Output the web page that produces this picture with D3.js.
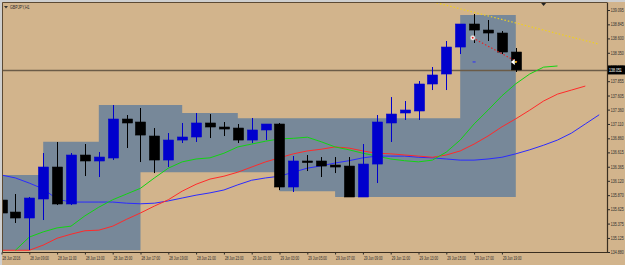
<!DOCTYPE html>
<html>
<head>
<meta charset="utf-8">
<script src="https://cdn.jsdelivr.net/npm/d3@7"></script>
<style>
    body { margin: 0; background: #d2b48c; }
    svg { display: block; font-family: "Liberation Sans", Arial, sans-serif; }
</style>
</head>
<body>
<svg id="chart" width="625" height="265"></svg>
<script>
// GBPJPY H1, 28 Jun 07:00 .. 29 Jun 20:00
const opens = [135.785, 135.576, 135.472, 135.803, 136.360, 135.716, 136.569, 136.465, 136.517, 137.196, 137.144, 136.900, 136.482, 136.830, 136.883, 137.127, 137.057, 137.039, 136.830, 137.005, 137.109, 136.012, 136.465, 136.465, 136.395, 136.377, 135.838, 136.412, 137.127, 137.301, 137.336, 137.806, 137.980, 138.450, 138.851, 138.746, 138.694, 138.363]
const highs = [135.907, 135.890, 135.838, 136.604, 136.796, 136.604, 136.761, 136.621, 137.440, 137.266, 137.388, 137.039, 136.952, 137.127, 137.301, 137.283, 137.144, 137.109, 137.214, 137.109, 137.127, 136.552, 136.569, 136.534, 136.534, 136.534, 136.761, 137.266, 137.579, 137.510, 137.858, 138.102, 138.555, 138.851, 139.025, 138.921, 138.729, 138.433]
const lows = [135.385, 135.385, 134.914, 135.437, 135.698, 135.698, 136.203, 136.186, 136.482, 136.691, 136.447, 136.255, 136.360, 136.778, 136.796, 136.865, 136.900, 136.778, 136.778, 136.830, 135.959, 135.925, 136.290, 136.186, 136.255, 135.838, 135.838, 136.081, 136.796, 137.179, 137.179, 137.701, 137.701, 138.328, 138.520, 138.555, 138.328, 138.015]
const closes = [135.559, 135.472, 135.820, 136.360, 135.716, 136.569, 136.465, 136.534, 137.196, 137.127, 136.917, 136.482, 136.830, 136.883, 137.127, 137.057, 137.022, 136.830, 137.005, 137.109, 136.012, 136.465, 136.447, 136.377, 136.360, 135.838, 136.412, 137.144, 137.283, 137.353, 137.806, 137.963, 138.450, 138.851, 138.746, 138.694, 138.363, 138.051]

// range boxes (step, per bar)
const rangeHigh = [136.22, 136.22, 136.22, 136.80, 136.80, 136.80, 136.80, 137.44, 137.44, 137.44, 137.44, 137.44, 137.44, 137.30, 137.30, 137.30, 137.30, 137.21, 137.21, 137.21, 137.21, 137.21, 137.21, 137.21, 137.21, 137.21, 137.21, 137.21, 137.21, 137.21, 137.21, 137.21, 137.21, 139.01, 139.01, 139.01, 139.01, 139.01]
const rangeLow = [134.91, 134.91, 134.91, 134.91, 134.91, 134.91, 134.91, 134.91, 134.91, 134.91, 136.27, 136.27, 136.27, 136.27, 136.27, 136.27, 136.27, 136.27, 136.27, 136.27, 135.94, 135.94, 135.94, 135.94, 135.84, 135.84, 135.84, 135.84, 135.84, 135.84, 135.84, 135.84, 135.84, 135.84, 135.84, 135.84, 135.84, 135.84]

// shifted moving averages (index = bar, null = not drawn)
const maGreen = [null, 134.91, 135.14, 135.23, 135.30, 135.33, 135.51, 135.66, 135.79, 135.89, 135.99, 136.17, 136.34, 136.45, 136.50, 136.52, 136.60, 136.71, 136.76, 136.81, 136.85, 136.86, 136.88, 136.80, 136.71, 136.66, 136.60, 136.55, 136.50, 136.47, 136.45, 136.48, 136.62, 136.83, 137.11, 137.35, 137.60, 137.81, 137.98, 138.10, 138.12]
const maRed = [134.91, 134.91, 134.91, 135.00, 135.12, 135.19, 135.25, 135.26, 135.33, 135.45, 135.56, 135.68, 135.79, 135.94, 136.06, 136.15, 136.20, 136.27, 136.36, 136.45, 136.52, 136.59, 136.64, 136.67, 136.71, 136.69, 136.64, 136.60, 136.59, 136.57, 136.55, 136.53, 136.57, 136.64, 136.76, 136.90, 137.06, 137.20, 137.35, 137.51, 137.63, 137.70, 137.77]
const maBlue = [136.22, 136.17, 136.08, 135.98, 135.80, 135.75, 135.75, 135.75, 135.75, 135.73, 135.72, 135.73, 135.77, 135.82, 135.87, 135.91, 135.96, 136.05, 136.13, 136.17, 136.20, 136.27, 136.34, 136.38, 136.43, 136.47, 136.52, 136.55, 136.55, 136.55, 136.53, 136.52, 136.50, 136.48, 136.48, 136.50, 136.53, 136.59, 136.66, 136.74, 136.83, 136.95, 137.11, 137.27]

// trend lines: [bar, price]
const trendYellow = [[31.3, 139.22], [43.0, 138.50]]
const trendRed = [[33.9, 138.61], [37.1, 138.19]]

const bidPrice = 138.051
const yTicks = [134.880, 135.125, 135.375, 135.625, 135.870, 136.120, 136.365, 136.615, 136.860, 137.110, 137.360, 137.605, 137.855, 138.100, 138.350, 138.600, 138.845, 139.095]
const xTickLabels = ["28 Jun 2016", "28 Jun 09:00", "28 Jun 11:00", "28 Jun 13:00", "28 Jun 15:00", "28 Jun 17:00", "28 Jun 19:00", "28 Jun 21:00", "28 Jun 23:00", "29 Jun 01:00", "29 Jun 03:00", "29 Jun 05:00", "29 Jun 07:00", "29 Jun 09:00", "29 Jun 11:00", "29 Jun 13:00", "29 Jun 15:00", "29 Jun 17:00", "29 Jun 19:00"]

const svg = d3.select("#chart")
const plotLeft = 2.5, plotRight = 607, plotTop = 3, plotBottom = 252.5

const x = d3.scaleLinear().domain([0, 37]).range([1.5, 515.8])
const y = d3.scaleLinear().domain([134.88, 139.095]).range([252, 10])

svg.append("rect").attr("width", 625).attr("height", 265).attr("fill", "#d2b48c")
svg.append("rect").attr("width", 625).attr("height", 2).attr("fill", "#cfcfcf")
svg.append("rect").attr("width", 2).attr("height", 265).attr("fill", "#cfcfcf")

svg.append("clipPath").attr("id", "plot")
    .append("rect").attr("x", plotLeft).attr("y", plotTop).attr("width", plotRight - plotLeft).attr("height", plotBottom - plotTop)

const g = svg.append("g").attr("clip-path", "url(#plot)")

// gray range area
const idx = d3.range(rangeHigh.length)
g.append("path")
    .datum(idx)
    .attr("fill", "#778899")
    .attr("d", d3.area()
        .curve(d3.curveStepAfter)
        .x(i => x(i))
        .y0(i => y(rangeLow[i]))
        .y1(i => y(rangeHigh[i])))

// bid line
g.append("line")
    .attr("x1", plotLeft).attr("x2", plotRight)
    .attr("y1", Math.round(y(bidPrice)) + 0.5).attr("y2", Math.round(y(bidPrice)) + 0.5)
    .attr("stroke", "#6b5b47").attr("stroke-width", 1.3)

// moving averages
const maLine = d3.line()
    .defined(d => d != null)
    .x((d, i) => x(i))
    .y(d => y(d))

const mas = [
    { data: maBlue, color: "#2b2bff" },
    { data: maRed, color: "#ff2a2a" },
    { data: maGreen, color: "#12d312" }
]
g.selectAll(".ma")
    .data(mas)
    .join("path")
    .attr("class", "ma")
    .attr("fill", "none")
    .attr("stroke", d => d.color)
    .attr("stroke-width", 1)
    .attr("d", d => maLine(d.data))

// candles
const bars = d3.range(opens.length).map(i => ({
    i, o: opens[i], h: highs[i], l: lows[i], c: closes[i]
}))
const bodyW = 10
const candle = g.append("g").selectAll("g")
    .data(bars)
    .join("g")

candle.append("line")
    .attr("x1", d => Math.round(x(d.i)) + 0.5)
    .attr("x2", d => Math.round(x(d.i)) + 0.5)
    .attr("y1", d => y(d.h))
    .attr("y2", d => y(d.l))
    .attr("stroke", d => d.c >= d.o ? "#0000cd" : "#000")

candle.append("rect")
    .attr("x", d => Math.round(x(d.i)) + 0.5 - bodyW / 2)
    .attr("width", bodyW)
    .attr("y", d => y(Math.max(d.o, d.c)))
    .attr("height", d => Math.max(1.5, Math.abs(y(d.o) - y(d.c))))
    .attr("fill", d => d.c >= d.o ? "#0000cd" : "#000")
    .attr("stroke", d => d.c >= d.o ? "#0000cd" : "#000")
    .attr("stroke-width", 0.6)

// trend lines
const tl = d3.line().x(d => x(d[0])).y(d => y(d[1]))
g.append("path").attr("d", tl(trendYellow))
    .attr("fill", "none").attr("stroke", "#f0d020").attr("stroke-width", 1.2).attr("stroke-dasharray", "1.5,2")
g.append("path").attr("d", tl(trendRed))
    .attr("fill", "none").attr("stroke", "#e02828").attr("stroke-width", 1.2).attr("stroke-dasharray", "1.5,2")

g.append("circle")
    .attr("cx", x(trendRed[0][0])).attr("cy", y(trendRed[0][1])).attr("r", 2.5)
    .attr("fill", "#f4f4f4").attr("stroke", "#999").attr("stroke-width", 0.6)
g.append("circle")
    .attr("cx", x(trendRed[0][0])).attr("cy", y(trendRed[0][1])).attr("r", 1)
    .attr("fill", "#e02828")
g.append("line")
    .attr("x1", x(34) - 1.5).attr("x2", x(34) + 1.5)
    .attr("y1", y(138.19)).attr("y2", y(138.19))
    .attr("stroke", "#2b2bff").attr("stroke-width", 1)

// arrow marker at last bar
const ax = x(37) - 2, ay = y(trendRed[1][1])
g.append("path")
    .attr("d", `M${ax - 3},${ay} L${ax + 1},${ay - 3} L${ax + 1},${ay + 3} Z`)
    .attr("fill", "#ffffff")
g.append("circle").attr("cx", ax + 2).attr("cy", ay).attr("r", 1).attr("fill", "#f0d020")

// small marker near top
svg.append("path")
    .attr("d", `M${x(39) - 2.5},3 L${x(39) + 2.5},3 L${x(39)},6 Z`)
    .attr("fill", "#222")

// frame
svg.append("line").attr("x1", plotLeft).attr("x2", plotRight).attr("y1", 2.5).attr("y2", 2.5).attr("stroke", "#5c4a34")
svg.append("line").attr("x1", plotLeft).attr("x2", plotLeft).attr("y1", 2.5).attr("y2", plotBottom).attr("stroke", "#5c4a34")

// y axis (narrow text via horizontal scale)
const yAxis = svg.append("g")
    .attr("transform", `translate(${plotRight},0)`)
    .call(d3.axisRight(y).tickValues(yTicks).tickSize(3).tickFormat(d3.format(".3f")))
yAxis.select(".domain").remove()
yAxis.selectAll("line").attr("stroke", "#2a2a2a")
yAxis.selectAll("text")
    .attr("x", 0)
    .attr("transform", "translate(3.8,0) scale(0.74,1)")
    .attr("font-size", 4.8).attr("fill", "#2a2a2a")

// x axis
const xAxis = svg.append("g")
    .attr("transform", `translate(0,${plotBottom})`)
    .call(d3.axisBottom(x).tickValues(d3.range(0, 37, 2)).tickSize(2).tickPadding(2)
        .tickFormat((d, i) => xTickLabels[i]))
xAxis.select(".domain").remove()
xAxis.selectAll("line").attr("stroke", "#2a2a2a")
xAxis.selectAll("text")
    .attr("x", 0)
    .attr("transform", "translate(0.5,0) scale(0.7,1)")
    .attr("font-size", 4.6).attr("fill", "#2a2a2a")
    .attr("text-anchor", "start")

svg.append("line").attr("x1", plotRight + 0.5).attr("x2", plotRight + 0.5).attr("y1", 2.5).attr("y2", plotBottom)
    .attr("stroke", "#3a2e20").attr("stroke-width", 1.2)
svg.append("line").attr("x1", plotLeft).attr("x2", plotRight + 1).attr("y1", plotBottom).attr("y2", plotBottom)
    .attr("stroke", "#3a2e20").attr("stroke-width", 1.2)

// current price label
const by = y(bidPrice)
svg.append("rect").attr("x", plotRight + 1).attr("y", by - 4.5).attr("width", 17).attr("height", 9).attr("fill", "#000")
svg.append("text")
    .attr("transform", `translate(${plotRight + 2},${by + 2}) scale(0.74,1)`)
    .attr("font-size", 4.8).attr("fill", "#fff")
    .text(d3.format(".3f")(bidPrice))

// title
svg.append("path").attr("d", "M4,6 L8,6 L6,8.5 Z").attr("fill", "#333")
svg.append("text")
    .attr("transform", "translate(10,8.5) scale(0.73,1)")
    .attr("font-size", 5).attr("fill", "#2a2a2a")
    .text("GBPJPY,H1")
</script>
</body>
</html>
